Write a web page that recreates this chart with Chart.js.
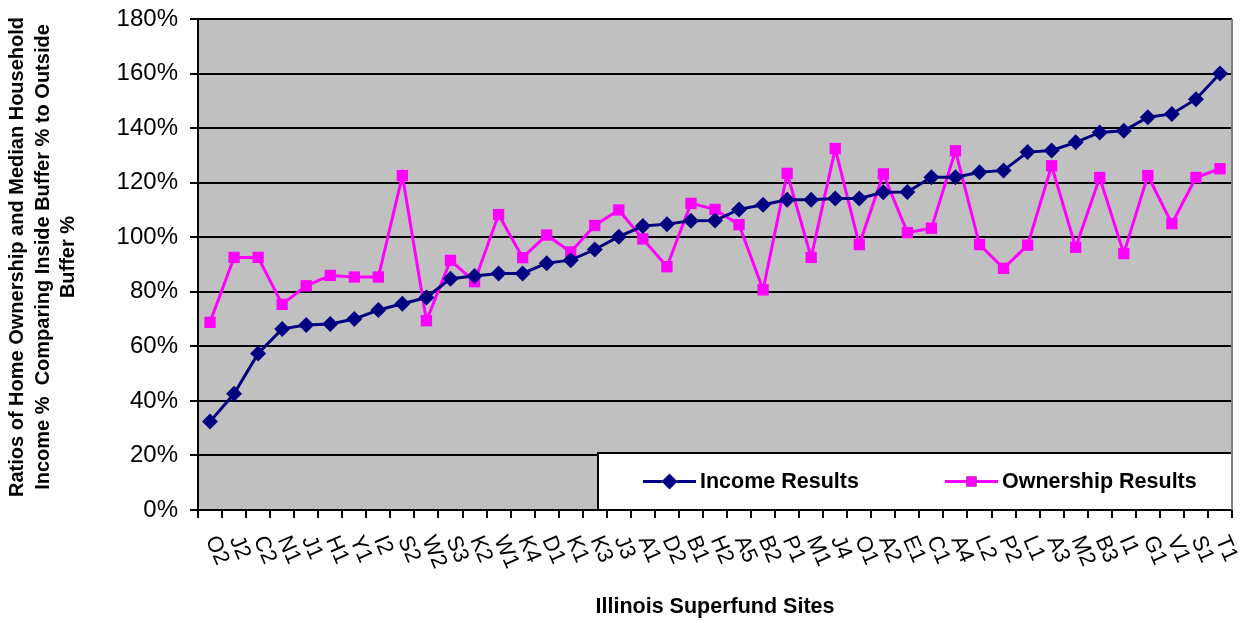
<!DOCTYPE html>
<html>
<head>
<meta charset="utf-8">
<script src="https://cdn.jsdelivr.net/npm/chart.js@4.4.1/dist/chart.umd.min.js"></script>
<style>
  html, body { margin: 0; padding: 0; background: #ffffff; }
  #chart { display: block; }
</style>
</head>
<body>
<canvas id="chart" width="1249" height="625"></canvas>
<script>
// Illinois Superfund site codes, ordered by income ratio
const sites = ['O2','J2','C2','N1','J1','H1','Y1','I2','S2','W2','S3','K2','W1','K4','D1','K1','K3','J3','A1','D2','B1','H2','A5','B2','P1','M1','J4','O1','A2','E1','C1','A4','L2','P2','L1','A3','M2','B3','I1','G1','V1','S1','T1'];

// Ratio (inside buffer / outside buffer), in percent
const incomeResults = [32.4, 42.6, 57.4, 66.4, 67.8, 68.2, 70.0, 73.3, 75.6, 77.9, 84.8, 85.8, 86.7, 86.7, 90.5, 91.6, 95.5, 100.2, 104.1, 104.8, 106.0, 106.1, 110.2, 111.9, 113.7, 113.7, 114.2, 114.2, 116.5, 116.6, 122.0, 122.0, 123.8, 124.5, 131.2, 131.8, 134.8, 138.4, 139.0, 144.0, 145.2, 150.6, 160.0];
const ownershipResults = [68.8, 92.6, 92.6, 75.4, 82.2, 86.0, 85.4, 85.4, 122.6, 69.4, 91.5, 83.7, 108.3, 92.5, 100.8, 94.6, 104.3, 110.0, 99.4, 89.2, 112.4, 110.2, 104.6, 80.7, 123.4, 92.6, 132.5, 97.3, 123.2, 101.7, 103.3, 131.7, 97.3, 88.6, 97.1, 126.2, 96.3, 121.9, 94.0, 122.6, 105.0, 121.9, 125.1];

// Axis range and labels
const yMin = 0;
const yMax = 180;
const yStep = 20;
const seriesNames = ['Income Results', 'Ownership Results'];
const xTitle = 'Illinois Superfund Sites';
const yTitleLines = ['Ratios of Home Ownership and Median Household', 'Income %  Comparing Inside Buffer % to Outside', 'Buffer %'];

const FONT = '"Liberation Sans", Arial, Helvetica, sans-serif';
const NAVY = '#000080';
const MAGENTA = '#FF00FF';

// Grey plot background and white page
const backdrop = {
  id: 'backdrop',
  beforeDraw(chart) {
    const { ctx, chartArea: a } = chart;
    ctx.save();
    ctx.fillStyle = '#ffffff';
    ctx.fillRect(0, 0, chart.width, chart.height);
    ctx.fillStyle = '#C0C0C0';
    ctx.fillRect(a.left, a.top, a.right - a.left, a.bottom - a.top);
    ctx.restore();
  },
  afterDraw(chart) {
    const { ctx, chartArea: a } = chart;
    ctx.save();
    ctx.strokeStyle = '#808080';
    ctx.lineWidth = 2;
    ctx.beginPath();
    ctx.moveTo(a.right, a.top);
    ctx.lineTo(a.right, a.bottom);
    ctx.stroke();
    ctx.restore();
  }
};

// Slanted site labels under each category
const siteLabels = {
  id: 'siteLabels',
  afterDraw(chart) {
    const { ctx } = chart;
    const xs = chart.scales.x;
    ctx.save();
    ctx.fillStyle = '#000000';
    ctx.font = '22px ' + FONT;
    ctx.textAlign = 'left';
    ctx.textBaseline = 'middle';
    sites.forEach((s, i) => {
      const x = xs.getPixelForValue(i);
      ctx.save();
      ctx.translate(x + 1, xs.top + 27);
      ctx.rotate(Math.PI * 0.37);
      ctx.fillText(s, 0, 0);
      ctx.restore();
    });
    ctx.restore();
  }
};

// Axis titles
const axisTitles = {
  id: 'axisTitles',
  afterDraw(chart) {
    const { ctx, chartArea: a } = chart;
    ctx.save();
    ctx.fillStyle = '#000000';
    ctx.font = 'bold 21.5px ' + FONT;
    ctx.textAlign = 'center';
    ctx.textBaseline = 'middle';
    ctx.fillText(xTitle, (a.left + a.right) / 2, 607);
    ctx.translate(43, 257);
    ctx.rotate(-Math.PI / 2);
    ctx.font = 'bold 20px ' + FONT;
    yTitleLines.forEach((line, k) => {
      ctx.fillText(line, 0, (k - 1) * 25.5);
    });
    ctx.restore();
  }
};

// Boxed legend sitting on the lower right of the plot
const boxLegend = {
  id: 'boxLegend',
  afterDatasetsDraw(chart) {
    const { ctx, chartArea: a } = chart;
    const left = 598, top = 453, right = a.right, bottom = a.bottom;
    ctx.save();
    ctx.fillStyle = '#ffffff';
    ctx.fillRect(left, top, right - left, bottom - top);
    ctx.strokeStyle = '#000000';
    ctx.lineWidth = 2;
    ctx.strokeRect(left, top, right - left, bottom - top);
    const cy = (top + bottom) / 2;
    const items = [
      { x: 643, ds: chart.data.datasets[0] },
      { x: 945, ds: chart.data.datasets[1] }
    ];
    items.forEach(it => {
      ctx.strokeStyle = it.ds.borderColor;
      ctx.lineWidth = 3;
      ctx.beginPath();
      ctx.moveTo(it.x, cy);
      ctx.lineTo(it.x + 53, cy);
      ctx.stroke();
      Chart.helpers.drawPoint(ctx, {
        pointStyle: it.ds.pointStyle,
        radius: it.ds.pointStyle === 'rectRot' ? 8 : 7,
        rotation: 0,
        borderWidth: 0
      }, it.x + 26.5, cy);
      ctx.fillStyle = it.ds.pointBackgroundColor;
      ctx.fill();
      ctx.fillStyle = '#000000';
      ctx.font = 'bold 21.5px ' + FONT;
      ctx.textAlign = 'left';
      ctx.textBaseline = 'middle';
      ctx.fillText(it.ds.label, it.x + 57, cy + 1);
    });
    ctx.restore();
  }
};

new Chart(document.getElementById('chart'), {
  type: 'line',
  data: {
    labels: sites,
    datasets: [
      {
        label: seriesNames[0],
        data: incomeResults,
        borderColor: NAVY,
        backgroundColor: NAVY,
        pointBackgroundColor: NAVY,
        pointBorderColor: NAVY,
        borderWidth: 3,
        pointStyle: 'rectRot',
        pointRadius: 8,
        pointBorderWidth: 0,
        tension: 0
      },
      {
        label: seriesNames[1],
        data: ownershipResults,
        borderColor: MAGENTA,
        backgroundColor: MAGENTA,
        pointBackgroundColor: MAGENTA,
        pointBorderColor: MAGENTA,
        borderWidth: 3,
        pointStyle: 'rect',
        pointRadius: 8,
        pointBorderWidth: 0,
        tension: 0
      }
    ]
  },
  options: {
    responsive: false,
    animation: false,
    devicePixelRatio: 1,
    layout: { padding: { top: 19, right: 17, left: 0, bottom: 0 } },
    plugins: {
      legend: { display: false },
      tooltip: { enabled: false },
      title: { display: false }
    },
    scales: {
      x: {
        type: 'category',
        offset: true,
        grid: {
          offset: true,
          drawOnChartArea: false,
          drawTicks: true,
          tickLength: 8,
          color: '#000000',
          lineWidth: 2
        },
        border: { display: true, color: '#000000', width: 2 },
        ticks: { display: false },
        afterFit(scale) { scale.height = 115; }
      },
      y: {
        min: yMin,
        max: yMax,
        grid: {
          drawOnChartArea: true,
          drawTicks: true,
          tickLength: 8,
          color: '#000000',
          lineWidth: 2
        },
        border: { display: true, color: '#000000', width: 2 },
        ticks: {
          stepSize: yStep,
          color: '#000000',
          padding: 12,
          font: { family: FONT, size: 24 },
          callback: v => v + '%'
        },
        afterFit(scale) {
          scale.width = 198;
          scale.paddingTop = 0;
          scale.paddingBottom = 0;
        }
      }
    }
  },
  plugins: [backdrop, siteLabels, axisTitles, boxLegend]
});
</script>
</body>
</html>
